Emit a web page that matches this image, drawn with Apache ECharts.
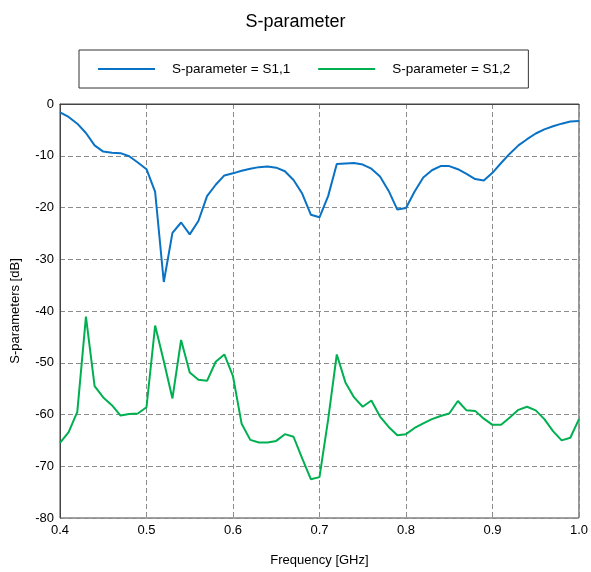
<!DOCTYPE html>
<html><head><meta charset="utf-8">
<script src="https://cdn.jsdelivr.net/npm/echarts@6/dist/echarts.min.js"></script>
<style>html,body{margin:0;padding:0;background:#fff}#c{width:591px;height:572px}</style>
</head><body><div id="c"></div>
<script>
const freq = [0.40,0.41,0.42,0.43,0.44,0.45,0.46,0.47,0.48,0.49,0.50,0.51,0.52,0.53,0.54,0.55,0.56,0.57,0.58,0.59,0.60,0.61,0.62,0.63,0.64,0.65,0.66,0.67,0.68,0.69,0.70,0.71,0.72,0.73,0.74,0.75,0.76,0.77,0.78,0.79,0.80,0.81,0.82,0.83,0.84,0.85,0.86,0.87,0.88,0.89,0.90,0.91,0.92,0.93,0.94,0.95,0.96,0.97,0.98,0.99,1.00];
const s11 = [-1.6,-2.5,-3.8,-5.6,-8.0,-9.2,-9.4,-9.5,-10.1,-11.3,-12.6,-17.0,-34.4,-24.9,-22.9,-25.2,-22.6,-17.8,-15.6,-13.8,-13.4,-12.9,-12.5,-12.2,-12.1,-12.3,-13.0,-14.7,-17.3,-21.4,-21.9,-17.8,-11.6,-11.5,-11.4,-11.7,-12.5,-14.0,-16.8,-20.4,-20.1,-16.9,-14.2,-12.8,-12.0,-12.0,-12.6,-13.5,-14.5,-14.8,-13.3,-11.4,-9.6,-8.0,-6.8,-5.7,-4.9,-4.3,-3.8,-3.4,-3.3];
const s12 = [-65.5,-63.4,-59.5,-41.1,-54.5,-56.7,-58.2,-60.2,-59.9,-59.8,-58.6,-42.8,-49.7,-56.9,-45.6,-51.9,-53.3,-53.5,-49.8,-48.4,-52.6,-61.8,-64.9,-65.4,-65.4,-65.1,-63.8,-64.3,-68.5,-72.5,-72.1,-61.0,-48.4,-53.8,-56.7,-58.5,-57.3,-60.4,-62.4,-64.0,-63.8,-62.6,-61.7,-60.9,-60.3,-59.8,-57.4,-59.2,-59.3,-60.8,-62.0,-62.0,-60.6,-59.1,-58.5,-59.2,-60.9,-63.2,-65.0,-64.5,-60.9];
const seriesNames = ['S-parameter = S1,1','S-parameter = S1,2'];
const xTicks = [0.4,0.5,0.6,0.7,0.8,0.9,1.0];

const FONT = '"Liberation Sans", Arial, sans-serif';
const chart = echarts.init(document.getElementById('c'), null, {renderer:'canvas'});
const gridStyle = {show:true, lineStyle:{color:'#8c8c8c', type:[5,3], width:1}};
chart.setOption({
  animation:false,
  backgroundColor:'#fff',
  title:{text:'S-parameter', left:'center', top:8, textStyle:{fontFamily:FONT, fontSize:18, fontWeight:'normal', color:'#000'}},
  legend:{
    top:50, left:79,
    borderColor:'#333', borderWidth:1, padding:[12,18,12,19],
    itemWidth:57, itemHeight:2, itemGap:28, icon:'rect',
    textStyle:{fontFamily:FONT, fontSize:13.5, color:'#000', padding:[0,0,0,12]},
    data:seriesNames
  },
  grid:{left:60, top:104, right:11, bottom:53, show:true, borderColor:'#444', borderWidth:1},
  xAxis:{
    type:'value', min:0.4, max:1.0, interval:0.1,
    name:'Frequency [GHz]', nameLocation:'middle', nameGap:36,
    nameTextStyle:{fontFamily:FONT, fontSize:13, color:'#000'},
    axisLine:{show:true, lineStyle:{color:'#444'}}, axisTick:{show:false},
    axisLabel:{fontFamily:FONT, fontSize:13, color:'#000', margin:6, formatter:v=>v.toFixed(1)},
    splitLine:gridStyle
  },
  yAxis:{
    type:'value', min:-80, max:0, interval:10,
    name:'S-parameters [dB]', nameLocation:'middle', nameGap:38, nameRotate:90,
    nameTextStyle:{fontFamily:FONT, fontSize:13, color:'#000'},
    axisLine:{show:true, lineStyle:{color:'#444'}}, axisTick:{show:false},
    axisLabel:{fontFamily:FONT, fontSize:13, color:'#000', margin:6},
    splitLine:gridStyle
  },
  series:[
    {name:seriesNames[0], type:'line', symbol:'none', data:freq.map((f,i)=>[f,s11[i]]), lineStyle:{color:'#0a72c4', width:2}, itemStyle:{color:'#0a72c4'}},
    {name:seriesNames[1], type:'line', symbol:'none', data:freq.map((f,i)=>[f,s12[i]]), lineStyle:{color:'#00b050', width:2}, itemStyle:{color:'#00b050'}}
  ]
});
</script></body></html>
